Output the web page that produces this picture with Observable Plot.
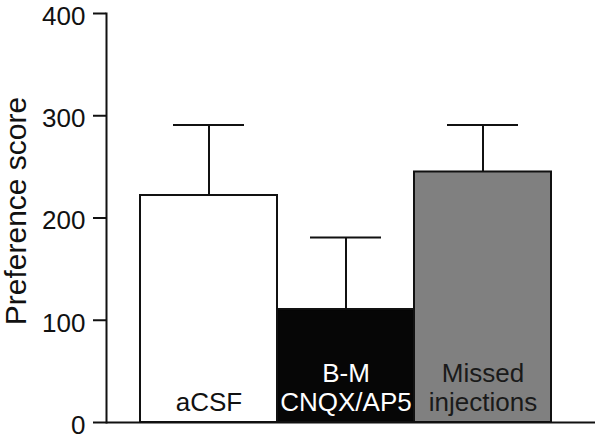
<!DOCTYPE html>
<html>
<head>
<meta charset="utf-8">
<script src="https://cdn.jsdelivr.net/npm/d3@7"></script>
<script src="https://cdn.jsdelivr.net/npm/@observablehq/plot@0.6"></script>
<style>
  html, body { margin: 0; padding: 0; background: #fff; }
  svg { display: block; }
</style>
</head>
<body>
<div id="chart"></div>
<script>
const categories = ["aCSF", "B-M CNQX/AP5", "Missed injections"];
const barLabels = ["aCSF", "B-M\nCNQX/AP5", "Missed\ninjections"];
const means = [222, 110.5, 245];
const upperErrors = [291, 181, 291];
const fills = ["#ffffff", "#060606", "#808080"];
const labelColors = ["#111111", "#ffffff", "#1a1a1a"];
const yTicks = [0, 100, 200, 300, 400];
const yTitle = "Preference score";

const data = categories.map((c, i) => ({
  cat: c, label: barLabels[i], mean: means[i], upper: upperErrors[i],
  fill: fills[i], labelColor: labelColors[i]
}));

const font = "'Liberation Sans', Arial, Helvetica, sans-serif";

const chart = Plot.plot({
  width: 601,
  height: 439,
  marginLeft: 106,
  marginRight: 6,
  marginTop: 13,
  marginBottom: 17,
  style: { fontFamily: font, background: "#fff", color: "#111" },
  x: { domain: categories, range: [139.3, 551.7], padding: 0, axis: null },
  y: { domain: [0, 400], ticks: yTicks },
  marks: [
    Plot.ruleX(data, { x: "cat", y1: "mean", y2: "upper", stroke: "#111", strokeWidth: 2 }),
    Plot.tickY(data, { x: "cat", y: "upper", stroke: "#111", strokeWidth: 2, insetLeft: 33, insetRight: 33 }),
    Plot.barY(data, { x: "cat", y: "mean", fill: d => d.fill, stroke: "#111", strokeWidth: 2 }),
    Plot.text(data, {
      x: "cat", y: 0, text: "label", fill: d => d.labelColor,
      fontSize: 26, lineHeight: 1.08, lineAnchor: "bottom", dy: -12
    }),
    Plot.ruleY([0], { stroke: "#111", strokeWidth: 2 }),
    Plot.frame({ anchor: "left", stroke: "#111", strokeWidth: 2 }),
    // tick marks only
    Plot.axisY({
      ticks: yTicks, tickSize: 13, stroke: "#111", strokeWidth: 2,
      label: null, tickFormat: () => ""
    }),
    // tick labels only, slightly lowered as in the reference
    Plot.axisY({
      ticks: yTicks, tickSize: 0, tickPadding: 21, fontSize: 26, dy: 3,
      fill: "#111", label: null, tickFormat: d => String(d)
    }),
    Plot.text([yTitle], {
      frameAnchor: "left", textAnchor: "middle", rotate: -90, dx: -90, dy: -7,
      fontSize: 30, lineAnchor: "middle", fill: "#111"
    })
  ]
});
document.getElementById("chart").appendChild(chart);
</script>
</body>
</html>
